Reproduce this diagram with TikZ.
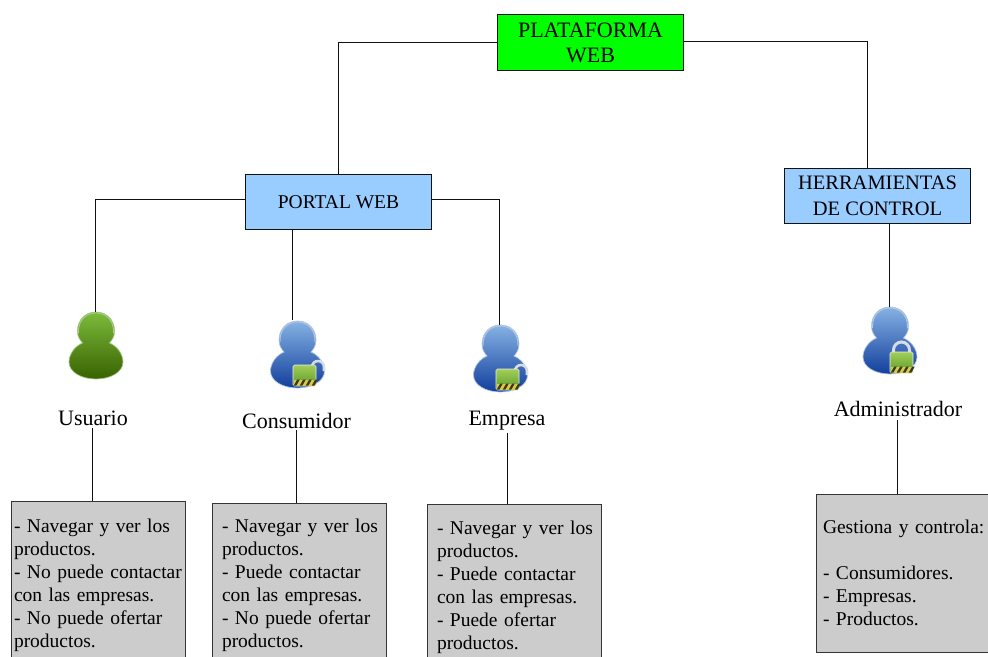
\documentclass[tikz,border=0pt]{standalone}
\usepackage{fontspec}
\setmainfont{Liberation Serif}
\usetikzlibrary{calc}
\definecolor{linecol}{HTML}{111111}
\definecolor{platgreen}{HTML}{00FF00}
\definecolor{boxblue}{HTML}{99CCFF}
\definecolor{boxgray}{HTML}{CCCCCC}
\definecolor{gtop}{HTML}{7DBB3C}
\definecolor{gmid}{HTML}{4F8A14}
\definecolor{gbot}{HTML}{386200}
\definecolor{grim}{HTML}{A9C98A}
\definecolor{btop}{HTML}{86B2E4}
\definecolor{bmid}{HTML}{3F78C4}
\definecolor{bbot}{HTML}{123F9C}
\definecolor{brim}{HTML}{B4C8E2}
\definecolor{locktop}{HTML}{A2CF58}
\definecolor{lockbot}{HTML}{5E9A2A}
\definecolor{shackle}{HTML}{D5DCE4}
\definecolor{hazy}{HTML}{D8C94A}
\definecolor{hazk}{HTML}{3A3A20}
\tikzset{
  every node/.style={font=\fontsize{19.5}{23}\selectfont, text=black, outer sep=0pt},
  titlebox/.style={draw=linecol, line width=0.9pt, inner sep=0pt, minimum width=186pt, align=center, anchor=north west},
  infobox/.style={draw=linecol!85, line width=0.9pt, fill=boxgray, align=left, anchor=north west, inner sep=0pt, text width=174pt},
  link/.style={draw=linecol, line width=0.8pt},
  iconbox/.style={inner sep=0pt, minimum width=54pt, minimum height=68pt, anchor=north},
  namelabel/.style={inner sep=1pt, font=\fontsize{22}{26}\selectfont}
}
% #1 x of head centre, #2 y of head top, #3 top, #4 middle, #5 bottom, #6 rim
\newcommand{\personicon}[6]{%
  \begin{scope}[shift={(#1,#2)}]
    \path[draw=#6, line width=0.7pt, top color=#3, middle color=#4, bottom color=#5]
      (0,0) .. controls (11,0) and (18.5,8) .. (18.5,19)
      .. controls (18.5,25) and (16,28) .. (13.5,31)
      .. controls (21,34) and (27,42) .. (27,50)
      .. controls (27,60) and (15,67) .. (0,67)
      .. controls (-15,67) and (-27,60) .. (-27,50)
      .. controls (-27,42) and (-21,34) .. (-13.5,31)
      .. controls (-16,28) and (-18.5,25) .. (-18.5,19)
      .. controls (-18.5,8) and (-11,0) .. (0,0) -- cycle;
    \draw[#6, line width=0.9pt] (-17.5,21) .. controls (-18,8) and (-10,1) .. (0,1) .. controls (10,1) and (18,8) .. (17.5,21);
  \end{scope}}
% #1 left x of lock, #2 top y of lock
\newcommand{\lockbody}[2]{%
  \begin{scope}[shift={(#1,#2)}]
    \draw[white!85!gray, line width=0.6pt, rounded corners=1.5pt, top color=locktop, bottom color=lockbot] (0,0) rectangle (23,21);
    \fill[hazy] (1,14.5) rectangle (22,20.5);
    \foreach \k in {0,6,12,18}{\fill[hazk] (0.8+\k,20.5) -- (4.2+\k,14.5) -- (6.8+\k,14.5) -- (3.4+\k,20.5) -- cycle;}
  \end{scope}}
\begin{document}
\begin{tikzpicture}[x=1pt,y=-1pt]
\useasboundingbox (0,0) rectangle (988,656);
\clip (0,0) rectangle (988,656);

% icons
\personicon{96}{312}{gtop}{gmid}{gbot}{grim}
\personicon{297.5}{321}{btop}{bmid}{bbot}{brim}
\personicon{500.5}{325}{btop}{bmid}{bbot}{brim}
\personicon{890}{307}{btop}{bmid}{bbot}{brim}

% shackles and locks
\draw[shackle, line width=2.6pt] (312,367) arc [start angle=180, end angle=360, radius=6] -- (324,371);
\lockbody{293}{365}
\draw[shackle, line width=2.6pt] (515,371) arc [start angle=180, end angle=360, radius=6] -- (527,375);
\lockbody{496}{369}
\draw[shackle, line width=3pt] (893.5,353) -- (893.5,350) arc [start angle=180, end angle=360, radius=8] -- (909.5,353);
\lockbody{890}{352}

% boxes
\node[titlebox, fill=platgreen, minimum height=56pt, font=\fontsize{22}{25}\selectfont] (plat) at (497.5,14.5) {PLATAFORMA\\WEB};
\node[titlebox, fill=boxblue, minimum height=55pt] (portal) at (245.5,174.5) {PORTAL WEB};
\node[titlebox, fill=boxblue, minimum height=55pt, font=\fontsize{20.5}{26}\selectfont] (herr) at (784.5,168.5) {HERRAMIENTAS\\DE CONTROL};

% icon anchors
\node[iconbox] (iuser) at (95,312) {};
\node[iconbox] (icons) at (292,320) {};
\node[iconbox] (iemp) at (499,325) {};
\node[iconbox] (iadm) at (889,307) {};

% names
\node[namelabel] (nuser) at (93,418) {Usuario};
\node[namelabel] (ncons) at (296.5,421) {Consumidor};
\node[namelabel] (nemp) at (507,421) {Empresa};
\node[namelabel] (nadm) at (898,409) {Administrador};

% info boxes
\node[infobox, minimum height=168pt] (buser) at (11,501) {\hspace*{3pt}- Navegar y ver los\\\hspace*{3pt}productos.\\\hspace*{3pt}- No puede contactar\\\hspace*{3pt}con las empresas.\\\hspace*{3pt}- No puede ofertar\\\hspace*{3pt}productos.};
\node[infobox, minimum height=164pt] (bcons) at (212,503) {\hspace*{10pt}- Navegar y ver los\\\hspace*{10pt}productos.\\\hspace*{10pt}- Puede contactar\\\hspace*{10pt}con las empresas.\\\hspace*{10pt}- No puede ofertar\\\hspace*{10pt}productos.};
\node[infobox, minimum height=166pt] (bemp) at (427,504) {\hspace*{10pt}- Navegar y ver los\\\hspace*{10pt}productos.\\\hspace*{10pt}- Puede contactar\\\hspace*{10pt}con las empresas.\\\hspace*{10pt}- Puede ofertar\\\hspace*{10pt}productos.};
\node[infobox, text width=190pt, minimum height=158pt] (badm) at (816,494) {\hspace*{7pt}Gestiona y controla:\\[23pt]\hspace*{7pt}- Consumidores.\\\hspace*{7pt}- Empresas.\\\hspace*{7pt}- Productos.};

% connectors
\coordinate (herrtop) at (867,168.5);
\draw[link] (plat.west) -| (portal.north);
\draw[link] ([yshift=1pt]plat.east) -| (herrtop);
\draw[link] ([yshift=2.5pt]portal.west) -| (iuser.north);
\draw[link] (portal.south -| icons.north) -- (icons.north);
\draw[link] ([yshift=2.5pt]portal.east) -| (iemp.north);
\draw[link] (herr.south -| iadm.north) -- (iadm.north);
\draw[link] (buser.north -| nuser.south) ++(-1,0) -- ++(0,-73);
\draw[link] (bcons.north -| ncons.south) -- (ncons.south);
\draw[link] (bemp.north -| nemp.south) -- ++(0,-71);
\draw[link] (badm.north -| nadm.south) ++(-1,0) -- ++(0,-74);
\end{tikzpicture}
\end{document}
